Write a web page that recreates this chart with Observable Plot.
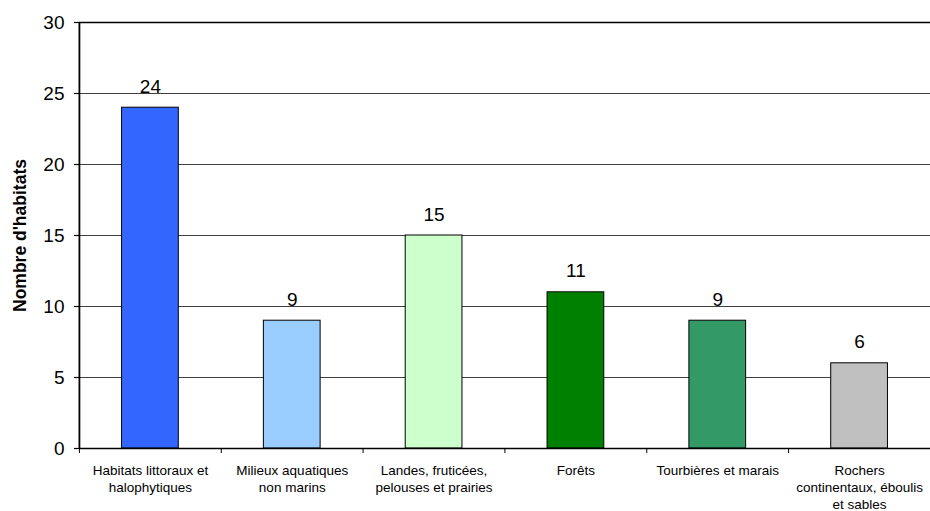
<!DOCTYPE html>
<html>
<head>
<meta charset="utf-8">
<script src="https://cdn.jsdelivr.net/npm/d3@7"></script>
<script src="https://cdn.jsdelivr.net/npm/@observablehq/plot@0.6"></script>
<style>
  html, body { margin: 0; padding: 0; background: #fff; overflow: hidden; }
  svg { display: block; }
</style>
</head>
<body>
<div id="chart"></div>
<script>
const categories = [
  "Habitats littoraux et\nhalophytiques",
  "Milieux aquatiques\nnon marins",
  "Landes, fruticées,\npelouses et prairies",
  "Forêts",
  "Tourbières et marais",
  "Rochers\ncontinentaux, éboulis\net sables"
];
const values = [24, 9, 15, 11, 9, 6];
const colors = ["#3366FF", "#99CCFF", "#CCFFCC", "#008000", "#339966", "#C0C0C0"];
const yTicks = [0, 5, 10, 15, 20, 25, 30];
const yLabel = "Nombre d'habitats";

const data = categories.map((c, i) => ({cat: c, value: values[i], color: colors[i]}));

const chart = Plot.plot({
  width: 930,
  height: 511,
  marginLeft: 79,
  marginRight: 0,
  marginTop: 22,
  marginBottom: 63,
  style: {fontFamily: "Liberation Sans, Arial, sans-serif", background: "#fff", color: "#000"},
  x: {domain: categories, paddingInner: 0.6, paddingOuter: 0.3, align: 0.5, round: false},
  y: {domain: [0, 30], ticks: yTicks},
  marks: [
    Plot.gridY(yTicks, {stroke: "#000", strokeOpacity: 0.75, strokeWidth: 1}),
    Plot.ruleY([30], {stroke: "#000", strokeWidth: 1.5}),
    Plot.axisY(yTicks, {tickSize: 5, tickPadding: 10, fontSize: 19, label: null, strokeWidth: 1.2}),
    Plot.axisX({tickSize: 0, tickPadding: 15, fontSize: 13.5, lineHeight: 1.25, label: null, letterSpacing: -0.4}),
    Plot.barY(data, {x: "cat", y: "value", fill: "color", stroke: "#000", strokeWidth: 1}),
    Plot.ruleX(data, {x: "cat", y1: 0, y2: 0, insetBottom: -5, dx: -71, stroke: "#000", strokeWidth: 1}),
    Plot.ruleX(data.slice(-1), {x: "cat", y1: 0, y2: 0, insetBottom: -5, dx: 71, stroke: "#000", strokeWidth: 1}),
    Plot.ruleY([0], {stroke: "#000", strokeWidth: 1.5}),
    Plot.ruleX(data.slice(0, 1), {x: "cat", dx: -71, stroke: "#000", strokeWidth: 1.8}),
    Plot.text(data, {x: "cat", y: "value", text: d => String(d.value), lineAnchor: "bottom", dy: -15, fontSize: 19}),
    Plot.text([yLabel], {frameAnchor: "left", textAnchor: "middle", rotate: -90, dx: -59, fontWeight: "bold", fontSize: 17.5})
  ]
});
document.getElementById("chart").appendChild(chart);
</script>
</body>
</html>
